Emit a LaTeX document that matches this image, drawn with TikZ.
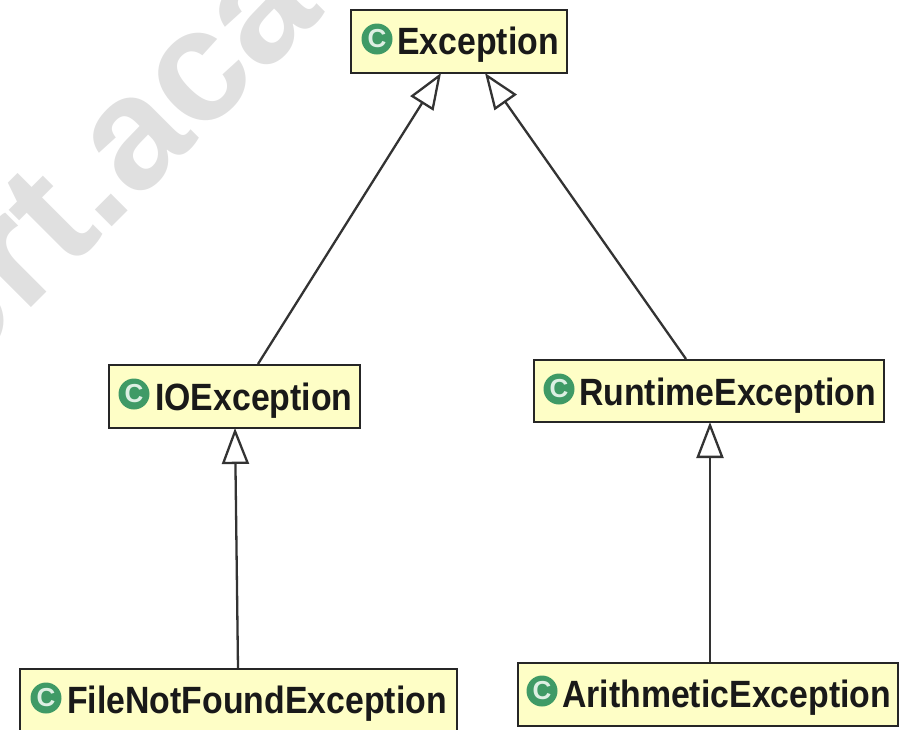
\documentclass[tikz,border=0pt]{standalone}
\usepackage{fontspec}
\setmainfont{Liberation Sans}
\newfontfamily\lblfont[FakeStretch=0.89]{Liberation Sans Bold}
\newfontfamily\wmfont{Liberation Sans Bold}
\usetikzlibrary{arrows.meta,calc}
\definecolor{boxfill}{HTML}{FEFEC6}
\definecolor{icongreen}{HTML}{3F9A66}
\definecolor{iconc}{HTML}{DDEFE3}
\definecolor{wm}{HTML}{E0E0E0}
\tikzset{
  classbox/.style={draw=black!85,line width=2.4pt,fill=boxfill,inner sep=0pt,outer sep=0pt,anchor=north west},
  icon/.style={circle,fill=icongreen,minimum size=31pt,inner sep=0pt,text=iconc,font=\wmfont\fontsize{26}{26}\selectfont},
  lbl/.style={anchor=base west,inner sep=0pt,text=black!90,font=\lblfont\fontsize{38}{38}\selectfont},
  inherit/.style={draw=black!80,line width=2.3pt,-{Triangle[open,fill=white,length=36pt,width=27pt,line width=2.3pt]}}
}
\begin{document}
\begin{tikzpicture}[x=1pt,y=-1pt]
\useasboundingbox (0,0) rectangle (900,729);
\clip (0,0) rectangle (900,729);
\node[rotate=45,anchor=base west,inner sep=0pt,text=wm,font=\wmfont\fontsize{160}{160}\selectfont] (wmark) at (-46,385) {ort.aca};
% boxes
\node[classbox,minimum width=216pt,minimum height=63pt] (exc) at (351,10) {};
\node[classbox,minimum width=251pt,minimum height=63pt] (ioe) at (109,365) {};
\node[classbox,minimum width=350pt,minimum height=62pt] (rte) at (534,360) {};
\node[classbox,minimum width=437pt,minimum height=63pt] (fnf) at (20,669) {};
\node[classbox,minimum width=380pt,minimum height=63pt] (ari) at (518,663) {};
% icons and labels
\node[icon] (ic1) at (377,39) {C};
\node[lbl] (t1) at (397,54) {Exception};
\node[icon] (ic2) at (134,394) {C};
\node[lbl] (t2) at (155,410) {IOException};
\node[icon] (ic3) at (559,389) {C};
\node[lbl] (t3) at (579,405) {RuntimeException};
\node[icon] (ic4) at (46,698) {C};
\node[lbl] (t4) at (67,713) {FileNotFoundException};
\node[icon] (ic5) at (542,691) {C};
\node[lbl] (t5) at (562,707) {ArithmeticException};
% connectors
\coordinate (a1) at ($(exc.south west)+(90,0)$);
\coordinate (a2) at ($(exc.south west)+(134,0)$);
\coordinate (b1) at ($(ioe.north west)+(149,-1)$);
\coordinate (b2) at ($(rte.north west)+(152,-1)$);
\draw[inherit] (b1) -- (a1);
\draw[inherit] (b2) -- (a2);
\coordinate (c1) at ($(ioe.south west)+(126,0)$);
\coordinate (c2) at ($(fnf.north west)+(218,-1)$);
\draw[inherit] (c2) -- (c1);
\coordinate (d1) at ($(rte.south west)+(176,0)$);
\coordinate (d2) at ($(ari.north west)+(192,-1)$);
\draw[inherit] (d2) -- (d1);
\end{tikzpicture}
\end{document}
